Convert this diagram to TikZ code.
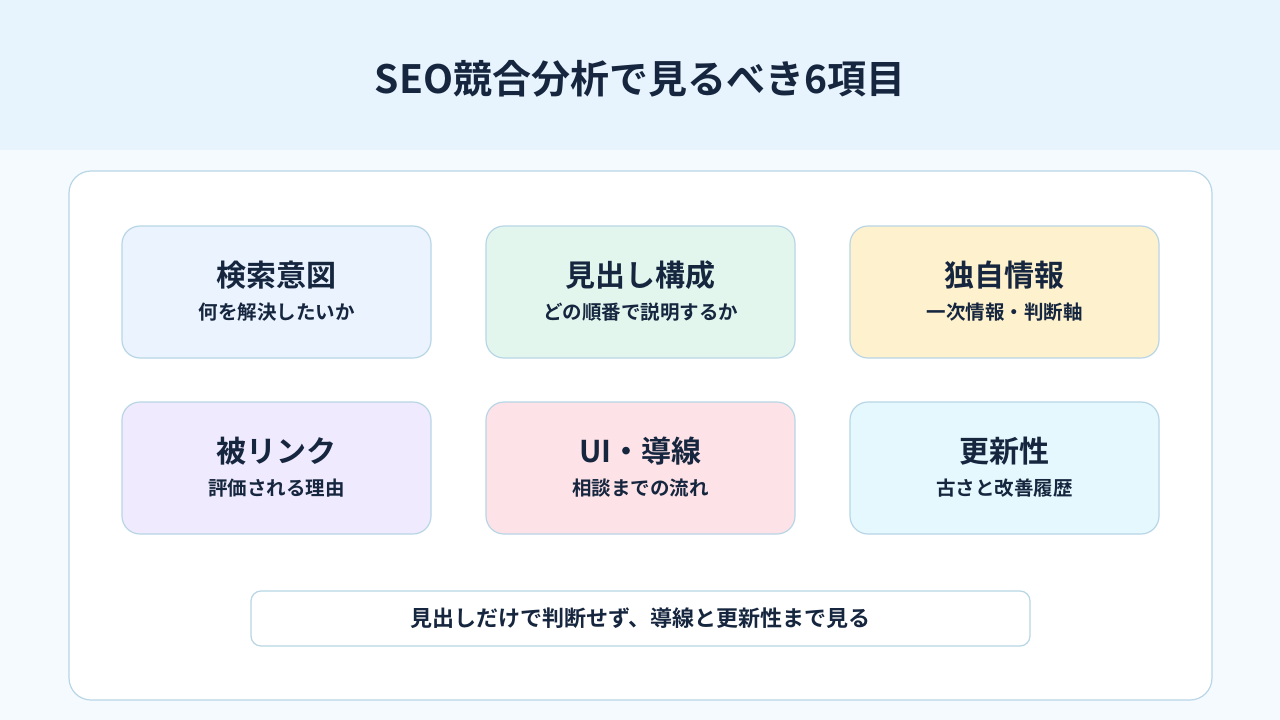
\documentclass[tikz,border=0pt]{standalone}
\usepackage{fontspec}
\setmainfont{Noto Sans CJK JP}[BoldFont={Noto Sans CJK JP Bold}]
\definecolor{hdr}{HTML}{E8F4FD}
\definecolor{bg}{HTML}{F5FAFE}
\definecolor{bd}{HTML}{B8D6E6}
\definecolor{ink}{HTML}{16263F}
\definecolor{c1}{HTML}{EAF3FE}
\definecolor{c2}{HTML}{E2F6EE}
\definecolor{c3}{HTML}{FEF2CE}
\definecolor{c4}{HTML}{EFEAFD}
\definecolor{c5}{HTML}{FDE3E7}
\definecolor{c6}{HTML}{E5F8FD}
\begin{document}
\begin{tikzpicture}[x=1pt,y=-1pt,
 card/.style={draw=bd,line width=1.2pt,rounded corners=18pt,minimum width=309pt,minimum height=132pt,inner sep=0pt},
 ttl/.style={font=\bfseries\fontsize{30}{33}\selectfont,text=ink},
 sub/.style={font=\bfseries\fontsize{19.5}{22}\selectfont,text=ink}]
\useasboundingbox (0,0) rectangle (1280,720);
\fill[bg] (0,0) rectangle (1280,720);
\fill[hdr] (0,0) rectangle (1280,150);
\node[font=\bfseries\fontsize{39}{43}\selectfont,text=ink] (title) at (640,79) {SEO競合分析で見るべき6項目};
\node[draw=bd,fill=white,line width=1.2pt,rounded corners=22pt,minimum width=1143pt,minimum height=529pt] (main) at (640.5,435.5) {};
\foreach \n/\x/\y/\c/\t/\s in {a/276.5/292/c1/検索意図/何を解決したいか, b/640.5/292/c2/見出し構成/どの順番で説明するか, c/1004.5/292/c3/独自情報/一次情報・判断軸, d/276.5/468/c4/被リンク/評価される理由, e/640.5/468/c5/UI・導線/相談までの流れ, f/1004.5/468/c6/更新性/古さと改善履歴}{
 \node[card,fill=\c] (\n) at (\x,\y) {};
 \node[ttl] (\n t) at (\x,\y-17) {\t};
 \node[sub] (\n s) at (\x,\y+20) {\s};
}
\node[draw=bd,fill=white,line width=1.2pt,rounded corners=10pt,minimum width=779pt,minimum height=55pt,font=\bfseries\fontsize{22}{25}\selectfont,text=ink] (note) at (640.5,618.5) {見出しだけで判断せず、導線と更新性まで見る};
\end{tikzpicture}
\end{document}
